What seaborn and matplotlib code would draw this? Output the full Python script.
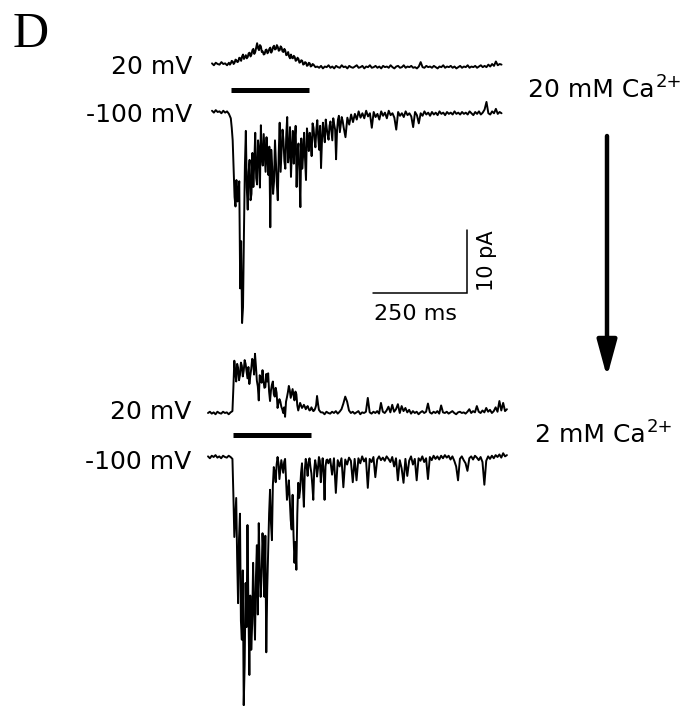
import numpy as np
import pandas as pd
import matplotlib
matplotlib.use("Agg")
import matplotlib.pyplot as plt
import seaborn as sns

# ---------------- data: current in pA relative to baseline ----------------
# coarse samples every 5 ms over the whole sweep
DT_MS = 5
# fine samples every 2.5 ms over the response window (start time in ms)
DT_FINE_MS = 2.5

# 20 mM Ca2+, holding 20 mV
I_20CA_P20 = [0.1, -0.2, 0.2, 0.0, -0.1, 0.3, 0.0, 0.1, -0.2, 0.2,
              0.1, 0.4, 0.2, 0.6, 0.4, 0.9, 1.2, 0.8, 1.4, 1.1,
              1.8, 1.5, 2.4, 1.9, 3.3, 2.2, 2.8, 2.0, 1.6, 2.3,
              1.9, 2.6, 2.1, 2.9, 2.4, 2.7, 2.2, 2.6, 1.9, 2.1,
              1.5, 1.2, 1.5, 0.9, 1.1, 0.6, 0.8, 0.3, 0.5, 0.0,
              0.2, -0.2, 0.1, -0.3, -0.1, -0.5,
              -0.4, -0.6, -0.3, -0.7, -0.4, -0.5, -0.2, -0.6, -0.4, -0.7,
              -0.3, -0.5, -0.6, -0.2, -0.5, -0.4, -0.7, -0.3, -0.5, -0.6,
              -0.4, -0.2, -0.6, -0.5, -0.3, -0.7, -0.4, -0.5, -0.2, -0.6,
              -0.5, -0.3, -0.6, -0.4, -0.7, -0.3, -0.5, -0.4, -0.6, -0.2,
              -0.5, -0.7, -0.4, -0.3, -0.6, -0.5, -0.2, -0.6, -0.4, -0.5,
              -0.3, -0.6, -0.5, -0.7, -0.4, 0.3, -0.5, -0.6, -0.3, -0.5,
              -0.4, -0.6, -0.3, -0.5, -0.7, -0.4, -0.5, -0.2, -0.6, -0.4,
              -0.5, -0.3, -0.6, -0.4, -0.7, -0.5, -0.3, -0.6, -0.4, -0.5,
              -0.2, -0.6, -0.4, -0.5, -0.3, -0.6, -0.4, -0.2, -0.5, -0.3,
              -0.5, -0.1, -0.4, 0.0, -0.3, 0.4, -0.2, 0.0, -0.1]
I_20CA_P20_FINE_T0 = 45
I_20CA_P20_FINE = [0.2, -0.1, 0.1, 0.5, 0.4, 0.0, 0.2, 0.7, 0.6, 0.3,
                   0.4, 1.0, 0.9, 0.5, 1.2, 1.5, 0.8, 1.1, 1.4, 0.9,
                   1.1, 1.7, 1.8, 1.2, 1.5, 2.2, 2.4, 1.6, 1.9, 2.6,
                   3.3, 2.5, 2.2, 3.0, 2.8, 1.9, 2.0, 1.5, 1.6, 2.2,
                   2.3, 1.7, 1.9, 2.4, 2.6, 1.8, 2.1, 2.7, 2.9, 2.3,
                   2.4, 3.0, 2.7, 2.1, 2.2, 2.8, 2.6, 2.0, 1.9, 2.4,
                   2.1, 1.4, 1.5, 1.9, 1.2, 0.9, 1.5, 1.0, 0.9, 1.3,
                   1.1, 0.5, 0.6, 1.0, 0.8, 0.2, 0.3, 0.6, 0.5, -0.1,
                   0.0, 0.3, 0.2, -0.3, -0.2, 0.2, 0.1, -0.4, -0.3, 0.0,
                   -0.1]

# 20 mM Ca2+, holding -100 mV
I_20CA_M100 = [0.2, -0.1, 0.3, 0.0, 0.1, -0.2, 0.2, -0.1, 0.1, -0.3,
               -1.0, -4.5, -13.5, -10.8, -12.9, -28.0, -33.5, -19.0, -3.0, -15.5,
               -7.6, -13.0, -11.9, -3.3, -11.5, -6.0, -2.1, -8.5, -6.5, -4.0,
               -10.0, -18.3, -8.7, -11.0, -8.1, -14.0, -1.7, -6.0, -4.4, -9.0,
               -0.8, -6.5, -10.3, -3.0, -4.4, -11.9, -5.0, -15.1, -9.0, -3.3,
               -10.8, -4.0, -3.3, -7.0, -2.5, -5.6, -1.3, -6.0, -8.9, -1.7,
               -4.8, -2.5, -4.4, -1.5, -4.5, -2.0, -7.5, -1.2, -3.2, -0.8,
               -2.4, -4.0, -0.9, -2.0, -0.4, -1.6, -0.3, -1.2, 0.1, -0.9,
               -0.2, -1.0, 0.2, -0.7, -0.2, -2.5, 0.0, -0.8, -0.3, -1.2,
               0.1, -0.6, -0.1, -1.0, 0.2, -0.5, -0.2, -0.9, -2.8, 0.0,
               -0.6, -0.2, -0.8, 0.1, -0.5, -0.2, -0.7, -2.4, 0.0, -0.5,
               -1.8, -0.2, -0.6, 0.1, -0.4, -0.1, -0.6, 0.0, -0.4, -0.1,
               -0.5, 0.1, -0.3, -0.1, -0.5, 0.0, -0.3, -0.1, -0.4, 0.1,
               -0.3, -0.1, -0.4, 0.0, -0.3, -0.1, -0.4, 0.1, -0.2, -0.5,
               0.0, -0.3, 0.1, -0.4, -0.1, 0.4, 1.6, -0.2, -0.4, 0.1,
               -0.2, 0.5, -0.3, 0.0, -0.2]
I_20CA_M100_FINE_T0 = 50
I_20CA_M100_FINE = [-1.0, -2.5, -4.5, -9.0, -13.5, -15.0, -10.8, -14.2, -12.9, -11.0,
                    -28.0, -20.5, -33.5, -31.0, -19.0, -8.5, -3.0, -12.0, -15.5, -9.5,
                    -7.6, -14.0, -13.0, -6.5, -11.9, -8.0, -3.3, -10.5, -11.5, -4.5,
                    -6.0, -12.0, -2.1, -7.0, -8.5, -3.5, -6.5, -9.5, -4.0, -7.5,
                    -10.0, -5.5, -18.3, -6.0, -8.7, -13.0, -11.0, -4.5, -8.1, -11.5,
                    -14.0, -6.5, -1.7, -9.5, -6.0, -2.8, -4.4, -7.8, -9.0, -3.6,
                    -0.8, -8.0, -6.5, -2.4, -10.3, -6.0, -3.0, -8.2, -4.4, -2.2,
                    -11.9, -6.5, -5.0, -9.5, -15.1, -4.2, -9.0, -6.8, -3.3, -7.5,
                    -10.8, -2.6, -4.0, -6.2, -3.3, -4.6, -7.0, -1.8, -2.5, -4.3,
                    -5.6, -2.8, -1.3, -4.0, -6.0, -2.2, -8.9, -4.5, -1.7, -3.4,
                    -4.8, -1.2, -2.5, -3.6, -4.4, -2.2, -1.5, -3.0, -4.5, -1.0,
                    -2.0, -2.8, -7.5, -3.0, -1.2, -0.6, -3.2, -2.0, -0.8, -1.4,
                    -2.4]

# 2 mM Ca2+, holding 20 mV
I_2CA_P20 = [0.0, 0.2, -0.1, 0.1, -0.2, 0.2, 0.0, -0.1, 0.2, 0.0,
             0.1, -0.2, 0.1, 0.3, 8.3, 5.0, 7.2, 6.0, 7.5, 6.7,
             7.8, 5.5, 4.6, 7.0, 8.3, 9.4, 5.1, 2.0, 5.6, 6.8,
             4.0, 6.2, 6.3, 1.9, 4.5, 3.0, 4.0, 0.8, 2.2, 1.0,
             0.0, -0.6, 2.5, 4.3, 2.4, 3.8, 2.0, 3.0, 0.4, 1.6,
             0.8, 1.3, 0.6, 1.1, 0.4, 0.9, 0.3, 0.7, 2.7, 0.5,
             0.1,
             0.1, -0.2, 0.2, 0.0, -0.1, 0.2, 0.0, 0.3, -0.1, 0.2,
             0.6, 1.5, 2.6, 1.8, 0.4,
             0.0, 0.2, -0.1, 0.1, 0.3, -0.2, 0.1, 0.0, 0.2, 2.4,
             0.1, -0.1, 0.2, 0.0, 0.3, -0.1, 1.6, 0.2, 0.0, 0.4,
             1.0, 0.1, 1.3, 0.2, 0.6, 1.4, 0.0, 1.1, 0.3, 0.8,
             0.1, 0.5, -0.1, 0.3, 0.0, 0.2, -0.2, 0.1, 0.3, 0.0,
             0.2, 1.5, 0.1, -0.1, 0.2, 0.0, 0.3, -0.1, 1.2, 0.1,
             0.0, 0.2, -0.1, 0.1, 0.3, 0.0, -0.2, 0.1, 0.2, 0.0,
             0.1, -0.1, 0.2, 0.6, 0.0, 0.3, 0.1, 1.1, 0.2, 0.0,
             0.4, 0.1, 0.8, 0.2, 0.5, 0.0, 0.3, 0.9, 0.2, 1.9,
             0.4, 1.6, 0.3, 0.6]
I_2CA_P20_FINE_T0 = 65
I_2CA_P20_FINE = [0.3, 4.0, 8.3, 6.5, 5.0, 7.8, 7.2, 5.2, 6.0, 8.0,
                  7.5, 5.8, 6.7, 8.4, 7.8, 6.6, 5.5, 7.3, 4.6, 5.9,
                  7.0, 8.6, 8.3, 6.1, 9.4, 7.4, 5.1, 4.2, 2.0, 6.0,
                  5.6, 4.8, 6.8, 5.2, 4.0, 4.1, 6.2, 5.0, 6.3, 3.4,
                  1.9, 3.6, 4.5, 5.0, 3.0, 2.6, 4.0, 3.2, 0.8, 1.6,
                  2.2, 1.8, 1.0, 0.6, 0.0, 0.9, -0.6, 1.8, 2.5, 3.3,
                  4.3, 3.6, 2.4, 3.1, 3.8, 2.8, 2.0, 3.4, 3.0, 1.2,
                  0.4, 1.0, 1.6, 1.2, 0.8, 1.0, 1.3, 1.0, 0.6, 0.9,
                  1.1, 0.7, 0.4, 0.5, 0.9, 0.6, 0.3, 0.4, 0.7, 1.2,
                  2.7, 1.5, 0.5, 0.3, 0.1]

# 2 mM Ca2+, holding -100 mV
I_2CA_M100 = [0.1, -0.2, 0.2, 0.0, 0.3, -0.1, 0.1, -0.2, 0.2, 0.0,
              -0.1, 0.2, 0.0, -0.3, -12.7, -6.5, -23.2, -9.0, -29.0, -39.4,
              -20.0, -10.8, -34.6, -30.6, -16.8, -29.0, -14.0, -10.5, -22.2, -12.1,
              -22.2, -31.0, -14.8, -5.2, -13.2, -1.6, -4.0, 0.0, -3.5, -0.5,
              -2.5, -0.3, -6.8, -3.7, -10.0, -6.0, -16.8, -17.9, -4.1, -5.2,
              -1.0, -7.9, -0.3, -3.0, -0.2, -2.6, -6.8, -0.5, -3.1, 0.0,
              -4.0, -0.2, -6.8, -0.5, -1.0, -0.3, -2.8, -0.2, -5.7, -0.5,
              -1.5, -0.2, -4.8, -0.4, -1.2, -0.1, -0.6, -4.0, -0.3, -3.7,
              -0.2, -1.0, 0.1, -0.7, -0.2, -4.9, -0.3, -0.8, 0.0, -3.2,
              -0.4, 0.1, -0.5, -0.1, -0.6, 0.1, -0.3, -0.8, 0.0, -1.5,
              -0.2, -3.7, -0.5, -1.8, -4.1, -0.3, -3.0, -0.6, 0.1, -1.2,
              -0.3, -3.7, -0.2, -0.6, 0.1, -0.8, -0.2, -3.5, 0.0, -0.5,
              0.2, -0.3, 0.1, -0.4, 0.2, -0.2, 0.3, -0.1, 0.2, -0.4,
              0.1, -0.6, -1.5, -3.7, -0.3, 0.1, -0.5, -1.0, -2.2, -0.2,
              0.1, -0.4, 0.2, -0.1, -0.5, 0.0, -0.8, -4.4, -0.6, 0.1,
              -0.3, 0.2, -0.2, 0.3, 0.0, 0.4, -0.1, 0.6, 0.1, 0.3]
I_2CA_M100_FINE_T0 = 65
I_2CA_M100_FINE = [-0.3, -6.0, -12.7, -9.5, -6.5, -16.0, -23.2, -13.0, -9.0, -26.0,
                   -29.0, -18.0, -39.4, -33.0, -20.0, -27.0, -10.8, -24.0, -34.6, -22.0,
                   -30.6, -26.5, -16.8, -24.0, -29.0, -19.0, -14.0, -25.0, -10.5, -17.5,
                   -22.2, -19.0, -12.1, -15.5, -22.2, -12.5, -31.0, -21.0, -14.8, -9.0,
                   -5.2, -10.5, -13.2, -4.5, -1.6, -2.5, -4.0, -1.2, 0.0, -1.0,
                   -3.5, -2.0, -0.5, -1.5, -2.5, -0.8, -0.3, -3.5, -6.8, -5.5,
                   -3.7, -7.0, -10.0, -11.5, -6.0, -12.5, -16.8, -13.5, -17.9, -9.0,
                   -4.1, -6.5, -5.2, -2.5, -1.0, -4.8, -7.9, -2.0, -0.3, -1.5,
                   -3.0, -0.8, -0.2, -1.6, -2.6, -4.5, -6.8, -2.0, -0.5, -1.4,
                   -3.1, -1.8, 0.0, -0.6, -4.0, -1.8, -0.2, -2.5, -6.8, -1.5,
                   -0.5, -0.4, -1.0]

STIM_20CA = (50, 258)     # ms, stimulus bar
STIM_2CA = (66, 274)
SCALE_MS = 250
SCALE_PA = 10
HOLD_LABELS = ["20 mV", "-100 mV"]
COND_LABELS = ["20 mM Ca", "2 mM Ca"]
ION_CHARGE = "2+"

# ---------------- layout (figure pixels -> ms / pA calibration) ----------------
W, H = 688, 706
PX_PER_MS = 0.376
PX_PER_PA = 6.3
X0_PX = 212


def X(px):
    return (px - X0_PX) / PX_PER_MS


def Y(px):
    return -px / PX_PER_PA


def sweep(coarse, fine, fine_t0):
    """Combine the 5-ms sweep with the 2.5-ms samples of the response window."""
    vc = np.asarray(coarse, dtype=float)
    vf = np.asarray(fine, dtype=float)
    tc = np.arange(len(vc)) * DT_MS
    tf = fine_t0 + np.arange(len(vf)) * DT_FINE_MS
    keep = (tc < tf[0]) | (tc > tf[-1])
    t = np.concatenate([tc[keep], tf])
    v = np.concatenate([vc[keep], vf])
    order = np.argsort(t, kind="stable")
    return t[order], v[order]


sns.set_style("white")
plt.rcParams["font.family"] = ["DejaVu Sans"]
plt.rcParams["text.color"] = "black"

fig = plt.figure(figsize=(W / 100, H / 100), dpi=100)
ax = fig.add_axes([0, 0, 1, 1])
ax.set_xlim(X(0), X(W))
ax.set_ylim(Y(H), Y(0))
ax.axis("off")

traces = [
    (I_20CA_P20, I_20CA_P20_FINE, I_20CA_P20_FINE_T0, X(212), Y(64)),
    (I_20CA_M100, I_20CA_M100_FINE, I_20CA_M100_FINE_T0, X(212), Y(112)),
    (I_2CA_P20, I_2CA_P20_FINE, I_2CA_P20_FINE_T0, X(208), Y(413)),
    (I_2CA_M100, I_2CA_M100_FINE, I_2CA_M100_FINE_T0, X(208), Y(457)),
]
for coarse, fine, t0, x_off, y_base in traces:
    t, v = sweep(coarse, fine, t0)
    df = pd.DataFrame({"t": t + x_off, "i": v + y_base})
    sns.lineplot(data=df, x="t", y="i", ax=ax, color="black", linewidth=1.4,
                 estimator=None, sort=False, legend=False)

# stimulus bars
for (on, off), x_off, ypx in [(STIM_20CA, X(212), 90), (STIM_2CA, X(208), 435)]:
    ax.plot([x_off + on, x_off + off], [Y(ypx), Y(ypx)], color="black",
            linewidth=3.6, solid_capstyle="butt")

# scale bar
cx, cy = X(467), Y(293)
ax.plot([cx - SCALE_MS, cx, cx], [cy, cy, cy + SCALE_PA], color="black",
        linewidth=1.1, solid_joinstyle="miter")
ax.text(X(416), Y(320), f"{SCALE_MS} ms", ha="center", va="baseline", fontsize=16)
ax.text(X(487), Y(261), f"{SCALE_PA} pA", ha="center", va="center",
        rotation=90, fontsize=15)

# labels
ax.text(X(13), Y(47), "D", family="Liberation Serif", fontsize=36,
        ha="left", va="baseline")
ax.text(X(192), Y(74), HOLD_LABELS[0], ha="right", va="baseline", fontsize=18)
ax.text(X(192), Y(122), HOLD_LABELS[1], ha="right", va="baseline", fontsize=18)
ax.text(X(191), Y(419), HOLD_LABELS[0], ha="right", va="baseline", fontsize=18)
ax.text(X(191), Y(469), HOLD_LABELS[1], ha="right", va="baseline", fontsize=18)
for label, xpx, ypx in [(COND_LABELS[0], 528, 97), (COND_LABELS[1], 535, 442)]:
    base = ax.text(X(xpx), Y(ypx), label, ha="left", va="baseline", fontsize=18)
    ax.annotate(ION_CHARGE, xy=(1.0, 1.0), xycoords=base, xytext=(0.5, 3.5),
                textcoords="offset points", ha="left", va="top", fontsize=13)

# arrow between conditions
ax.annotate("", xy=(X(607), Y(377)), xytext=(X(607), Y(136)),
            arrowprops=dict(arrowstyle="-|>,head_length=2.2,head_width=0.6",
                            color="black", linewidth=3.2, mutation_scale=10,
                            shrinkA=0, shrinkB=0))

fig.savefig("out.png", dpi=100, facecolor="white")
